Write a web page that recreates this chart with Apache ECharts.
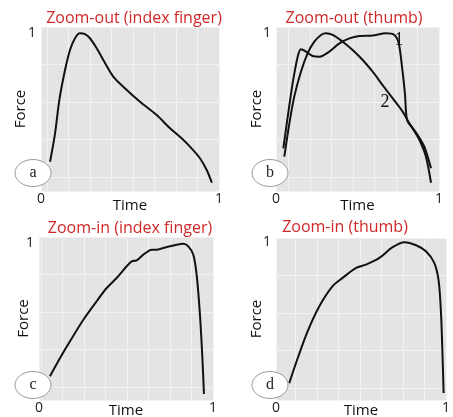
<!DOCTYPE html>
<html><head><meta charset="utf-8">
<script src="https://cdn.jsdelivr.net/npm/echarts@6/dist/echarts.min.js"></script>
<style>html,body{margin:0;padding:0;background:#fff}#c{width:453px;height:417px}</style>
</head><body><div id="c"></div>
<script>
// ---- data ----
const panelTitles = ['Zoom-out (index finger)', 'Zoom-out (thumb)', 'Zoom-in (index finger)', 'Zoom-in (thumb)'];
const panelLetters = ['a', 'b', 'c', 'd'];
const curveNumbers = ['1', '2'];
const xTickValues = [0, 1];
const yTickValues = [1];
const xName = 'Time';
const yName = 'Force';

const outIndexTime  = [0.051,0.079,0.103,0.135,0.163,0.191,0.219,0.247,0.275,0.313,0.35,0.406,0.462,0.556,0.65,0.725,0.79,0.846,0.893,0.931,0.96];
const outIndexForce = [0.142,0.331,0.553,0.753,0.887,0.965,0.998,0.993,0.965,0.898,0.82,0.709,0.642,0.542,0.453,0.365,0.298,0.231,0.165,0.087,0.002];

const outThumb1Time  = [0.045,0.072,0.102,0.133,0.153,0.184,0.225,0.266,0.327,0.389,0.45,0.511,0.593,0.675,0.726,0.753,0.773,0.791,0.804,0.838,0.88,0.92,0.951];
const outThumb1Force = [0.231,0.442,0.664,0.842,0.891,0.876,0.847,0.842,0.876,0.931,0.964,0.98,0.984,0.998,0.987,0.931,0.776,0.598,0.42,0.364,0.287,0.176,0.002];

const outThumb2Time  = [0.051,0.082,0.112,0.153,0.194,0.235,0.276,0.307,0.348,0.409,0.47,0.532,0.593,0.654,0.716,0.777,0.818,0.869,0.91,0.951];
const outThumb2Force = [0.176,0.398,0.576,0.742,0.864,0.942,0.987,0.998,0.987,0.942,0.887,0.82,0.742,0.653,0.564,0.476,0.398,0.32,0.242,0.098];

const inIndexTime  = [0.063,0.121,0.178,0.255,0.331,0.389,0.446,0.504,0.533,0.561,0.6,0.648,0.676,0.734,0.791,0.829,0.858,0.887,0.906,0.925,0.939,0.948];
const inIndexForce = [0.117,0.238,0.349,0.492,0.614,0.702,0.768,0.846,0.879,0.885,0.923,0.956,0.956,0.974,0.989,0.995,0.978,0.923,0.79,0.525,0.238,0.0];

const inThumbTime  = [0.078,0.128,0.186,0.255,0.333,0.392,0.471,0.529,0.608,0.686,0.755,0.824,0.882,0.931,0.957,0.971,0.98,0.986];
const inThumbForce = [0.066,0.232,0.408,0.574,0.707,0.762,0.828,0.85,0.894,0.965,0.998,0.978,0.938,0.861,0.74,0.519,0.232,0.0];

// ---- layout ----
const panels = [
  {left:41, top:27, width:178, height:164, yMin:-0.053, yMax:1.04, series:[[outIndexTime,outIndexForce]], titleX:129, titleY:5, nameGapX:7, nameGapY:13, ringX:33, ringY:173},
  {left:276, top:27, width:163, height:164, yMin:-0.053, yMax:1.04, series:[[outThumb1Time,outThumb1Force],[outThumb2Time,outThumb2Force]], titleX:349, titleY:5, nameGapX:7, nameGapY:12, ringX:270, ringY:173},
  {left:39, top:237, width:174, height:163, yMin:-0.04, yMax:1.04, series:[[inIndexTime,inIndexForce]], titleX:125, titleY:215, nameGapX:3, nameGapY:8, ringX:33, ringY:385},
  {left:276, top:238, width:170, height:162, yMin:-0.046, yMax:1.026, series:[[inThumbTime,inThumbForce]], titleX:340, titleY:214, nameGapX:3, nameGapY:12, ringX:270, ringY:385}
];

const zip = (a, b) => a.map((v, i) => [v, b[i]]);
const FONT = 'Open Sans';
const grid = [], xAxis = [], yAxis = [], series = [], title = [], graphic = [];

panels.forEach((p, i) => {
  grid.push({left:p.left, top:p.top, width:p.width, height:p.height, show:true, backgroundColor:'#e4e4e4', borderWidth:0, containLabel:false, outerBoundsMode:'none'});
  xAxis.push({type:'value', gridIndex:i, min:0, max:1, name:xName, nameLocation:'middle', nameGap:p.nameGapX, nameMoveOverlap:false,
    nameTextStyle:{color:'#111', fontSize:15, fontFamily:FONT, verticalAlign:'top'},
    axisLine:{show:false}, axisTick:{show:false}, splitLine:{show:false},
    axisLabel:{customValues:xTickValues, margin:1, color:'#222', fontSize:14, fontFamily:FONT}});
  yAxis.push({type:'value', gridIndex:i, min:p.yMin, max:p.yMax, name:yName, nameLocation:'middle', nameGap:p.nameGapY, nameMoveOverlap:false,
    nameTextStyle:{color:'#111', fontSize:15, fontFamily:FONT},
    axisLine:{show:false}, axisTick:{show:false}, splitLine:{show:false},
    axisLabel:{customValues:yTickValues, margin:5, color:'#222', fontSize:14, fontFamily:FONT}});
  title.push({text:panelTitles[i], left:p.titleX, top:p.titleY, textAlign:'center',
    textStyle:{color:'#d02828', fontSize:16, fontWeight:'normal', fontFamily:FONT}});
  p.series.forEach(s => series.push({type:'line', xAxisIndex:i, yAxisIndex:i, data:zip(s[0], s[1]),
    smooth:0.3, showSymbol:false, lineStyle:{color:'#111', width:2}, silent:true}));
  graphic.push({type:'ellipse', shape:{cx:p.ringX, cy:p.ringY, rx:18, ry:13.5}, style:{fill:'#fff', stroke:'#9a9a9a', lineWidth:1}, z:100});
  graphic.push({type:'text', x:p.ringX, y:p.ringY, style:{text:panelLetters[i], textAlign:'center', textVerticalAlign:'middle', font:'16px "Liberation Serif"', fill:'#222'}, z:101});
});
// hidden gridline axes
panels.forEach((p, i) => {
  xAxis.push({type:'value', gridIndex:i, min:0, max:p.width/21.5, interval:1, inverse:true, show:true,
    axisLine:{show:false}, axisTick:{show:false}, axisLabel:{show:false},
    splitLine:{show:true, lineStyle:{color:'#f2f2f2', width:1}}});
  yAxis.push({type:'value', gridIndex:i, min:0, max:p.height/37.5, interval:1, inverse:true, show:true,
    axisLine:{show:false}, axisTick:{show:false}, axisLabel:{show:false},
    splitLine:{show:true, lineStyle:{color:'#f2f2f2', width:1}}});
});
graphic.push({type:'text', x:399, y:40, style:{text:curveNumbers[0], textAlign:'center', textVerticalAlign:'middle', font:'18px "Liberation Serif"', fill:'#111'}, z:101});
graphic.push({type:'text', x:385, y:102, style:{text:curveNumbers[1], textAlign:'center', textVerticalAlign:'middle', font:'18px "Liberation Serif"', fill:'#111'}, z:101});

const chart = echarts.init(document.getElementById('c'), null, {renderer:'canvas'});
chart.setOption({animation:false, backgroundColor:'#fff', grid, xAxis, yAxis, series, title, graphic});
</script></body></html>
